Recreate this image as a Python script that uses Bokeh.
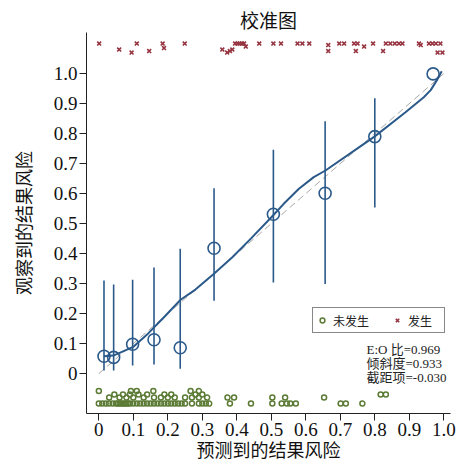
from bokeh.plotting import figure
from bokeh.models import Range1d, FixedTicker, Legend, LegendItem, Label
from bokeh.embed import file_html
from bokeh.resources import INLINE

# ---- data ----
tick_vals = [0, 0.1, 0.2, 0.3, 0.4, 0.5, 0.6, 0.7, 0.8, 0.9, 1.0]
tick_labels = ["0", "0.1", "0.2", "0.3", "0.4", "0.5", "0.6", "0.7", "0.8", "0.9", "1.0"]

# grouped observed risk with 95% CI
grp_pred = [0.015, 0.043, 0.098, 0.160, 0.236, 0.334, 0.506, 0.656, 0.800, 0.969]
grp_obs = [0.058, 0.054, 0.098, 0.113, 0.086, 0.418, 0.531, 0.601, 0.790, 0.999]
grp_lo = [0.010, 0.010, 0.027, 0.030, 0.016, 0.243, 0.304, 0.299, 0.554, 0.999]
grp_hi = [0.310, 0.297, 0.313, 0.354, 0.416, 0.618, 0.746, 0.841, 0.918, 0.999]

# smoothed calibration curve
curve_x = [0.015, 0.042, 0.072, 0.101, 0.140, 0.160, 0.184, 0.237, 0.280, 0.333,
           0.387, 0.440, 0.505, 0.536, 0.580, 0.623, 0.657, 0.754, 0.799, 0.889,
           0.942, 0.962, 0.981, 0.994]
curve_y = [0.058, 0.060, 0.075, 0.090, 0.130, 0.154, 0.182, 0.246, 0.280, 0.332,
           0.388, 0.449, 0.527, 0.566, 0.616, 0.655, 0.677, 0.754, 0.790, 0.871,
           0.921, 0.945, 0.980, 1.008]

# reference line
ref_x = [0.0, 1.0]
ref_y = [0.0, 1.0]

# events (rug at top)
event_x = [0.001, 0.059, 0.095, 0.110, 0.146, 0.185, 0.189, 0.249, 0.358, 0.372,
           0.380, 0.387, 0.395, 0.402, 0.408, 0.415, 0.421, 0.426, 0.465, 0.506,
           0.528, 0.576, 0.590, 0.610, 0.665, 0.665, 0.697, 0.711, 0.740, 0.750,
           0.745, 0.769, 0.795, 0.824, 0.832, 0.845, 0.858, 0.870, 0.880, 0.928,
           0.933, 0.957, 0.967, 0.977, 0.990, 0.982, 0.996]
event_y = [1.100, 1.080, 1.070, 1.100, 1.075, 1.100, 1.085, 1.100, 1.080, 1.070,
           1.075, 1.080, 1.100, 1.100, 1.100, 1.100, 1.100, 1.090, 1.100, 1.100,
           1.100, 1.100, 1.100, 1.100, 1.095, 1.075, 1.100, 1.100, 1.100, 1.100,
           1.075, 1.090, 1.100, 1.075, 1.100, 1.100, 1.100, 1.100, 1.100, 1.100,
           1.095, 1.100, 1.100, 1.100, 1.100, 1.070, 1.070]

# non-events (rug at bottom)
none_x = [0.000, 0.010, 0.020, 0.030, 0.040, 0.050, 0.055, 0.060, 0.065, 0.070,
          0.075, 0.080, 0.085, 0.090, 0.100, 0.110, 0.120, 0.130, 0.140, 0.150,
          0.160, 0.170, 0.180, 0.190, 0.200, 0.210, 0.220, 0.230, 0.240, 0.250,
          0.270, 0.290, 0.300, 0.310, 0.320, 0.380, 0.441, 0.503, 0.530, 0.545,
          0.555, 0.571, 0.701, 0.716, 0.764,
          0.030, 0.060, 0.080, 0.100, 0.130, 0.160, 0.180, 0.200, 0.220, 0.250,
          0.270, 0.290, 0.314, 0.373, 0.392, 0.503, 0.540, 0.653,
          0.045, 0.070, 0.090, 0.115, 0.140, 0.190, 0.210, 0.280, 0.300, 0.817,
          0.832,
          0.000, 0.093, 0.110, 0.158, 0.266, 0.290]
none_y = [-0.100] * 45 + [-0.080] * 18 + [-0.070] * 11 + [-0.058] * 6

stats_lines = ["E:O 比=0.969", "倾斜度=0.933", "截距项=-0.030"]
stats_y = [0.080, 0.033, -0.014]

x_title = "预测到的结果风险"
y_title = "观察到的结果风险"

NAVY = "#2b5a8a"
GREEN = "#5b7b35"
MAROON = "#963440"
SERIF = "'Liberation Serif', 'Noto Sans CJK SC'"
CJK = "'Noto Sans CJK SC'"

p = figure(width=458, height=466, output_backend="svg", toolbar_location=None,
           x_range=Range1d(-0.0357, 1.0194), y_range=Range1d(-0.133, 1.137),
           title="校准图", min_border_left=86, min_border_right=8,
           min_border_top=32, min_border_bottom=53)
p.title.align = "center"
p.title.text_font = CJK
p.title.text_font_size = "19px"
p.title.text_font_style = "normal"
p.title.text_color = "#111111"
p.title.standoff = 0
p.title.offset = 0

p.outline_line_color = None
p.grid.visible = False
p.background_fill_color = "white"
p.border_fill_color = "white"

for ax in (p.xaxis[0], p.yaxis[0]):
    ax.ticker = FixedTicker(ticks=tick_vals)
    ax.major_label_overrides = {v: s for v, s in zip(tick_vals, tick_labels)}
    ax.minor_tick_line_color = None
    ax.major_tick_in = 0
    ax.major_tick_out = 7
    ax.axis_line_color = "#222222"
    ax.major_tick_line_color = "#222222"
    ax.major_label_text_font = "'Liberation Serif'"
    ax.major_label_text_font_size = "19px"
    ax.major_label_text_color = "#111111"
    ax.axis_label_text_font = CJK
    ax.axis_label_text_font_size = "18px"
    ax.axis_label_text_font_style = "normal"
    ax.axis_label_text_color = "#111111"

p.xaxis.axis_label = x_title
p.yaxis.axis_label = y_title
p.xaxis.major_label_standoff = 2
p.xaxis.axis_label_standoff = -3
p.yaxis.major_label_standoff = 2
p.yaxis.axis_label_standoff = 15
p.yaxis.major_label_orientation = "horizontal"

# reference diagonal
p.line(ref_x, ref_y, line_color="#a8a8a8", line_width=1, line_dash="7 4")

# CI bars
p.segment(x0=grp_pred, y0=grp_lo, x1=grp_pred, y1=grp_hi, line_color=NAVY, line_width=1.6)

# smoothed curve
p.line(curve_x, curve_y, line_color=NAVY, line_width=2, line_join="round")

# grouped points
p.scatter(grp_pred, grp_obs, marker="circle", size=12, fill_color=None,
          line_color=NAVY, line_width=1.6)

# rugs
r_none = p.scatter(none_x, none_y, marker="circle", size=5, fill_color=None,
                   line_color=GREEN, line_width=1.5)
r_event = p.scatter(event_x, event_y, marker="x", size=5.5, line_color=MAROON, line_width=1.6)

legend = Legend(items=[LegendItem(label="未发生", renderers=[r_none]),
                       LegendItem(label="发生", renderers=[r_event])],
                orientation="horizontal", location=(226, 80))
legend.label_text_font = CJK
legend.label_text_font_size = "12px"
legend.label_text_color = "#222222"
legend.glyph_width = 12
legend.glyph_height = 18
legend.label_standoff = 5
legend.spacing = 22
legend.padding = 3
legend.margin = 0
legend.label_width = 33
legend.border_line_color = "#111111"
legend.border_line_width = 1
legend.background_fill_color = "white"
legend.background_fill_alpha = 1
p.add_layout(legend, "center")

for txt, yv in zip(stats_lines, stats_y):
    p.add_layout(Label(x=0.776, y=yv, text=txt, text_font=SERIF, text_font_size="13px",
                       text_baseline="middle", text_align="left", text_color="#222222"))

open("out.html", "w").write(file_html(p, INLINE))
